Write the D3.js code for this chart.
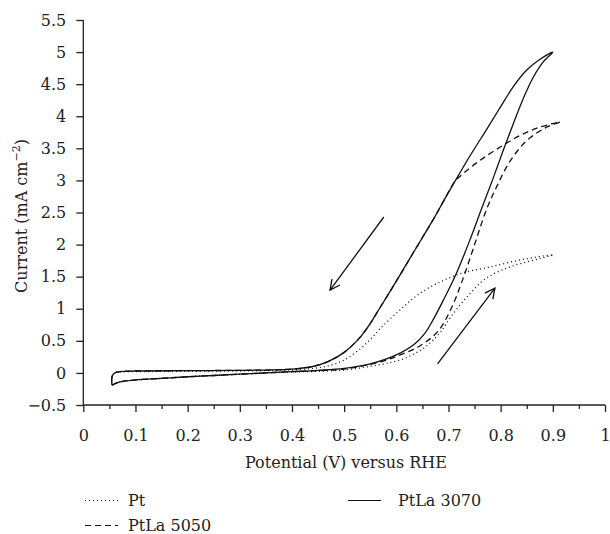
<!DOCTYPE html>
<html lang="en">
<head>
<meta charset="UTF-8" />
<title>CV curves</title>
<style>
  body { margin: 0; background: #fff; }
  svg text { font-family: "DejaVu Serif", "Liberation Serif", serif; fill: #222; }
</style>
</head>
<body>
<div id="chart"></div>
<script src="https://cdn.jsdelivr.net/npm/d3@7"></script>
<script>
// potential (V) / current (mA cm-2) pairs, traced round each loop
var ptCurve = [
  [0.055,-0.19],[0.07,-0.14],[0.1,-0.11],[0.15,-0.085],[0.2,-0.06],[0.25,-0.04],[0.3,-0.02],
  [0.35,0.0],[0.4,0.015],[0.45,0.025],[0.5,0.045],[0.569,0.13],[0.607,0.2],[0.635,0.3],
  [0.658,0.42],[0.684,0.63],[0.705,0.88],[0.735,1.18],[0.773,1.48],[0.824,1.67],[0.875,1.78],[0.901,1.84],
  [0.837,1.76],[0.779,1.65],[0.728,1.56],[0.69,1.44],[0.645,1.24],[0.607,0.98],[0.569,0.69],
  [0.55,0.52],[0.53,0.37],[0.5,0.2],[0.47,0.11],[0.44,0.07],[0.4,0.045],[0.35,0.035],[0.3,0.03],
  [0.2,0.025],[0.1,0.02],[0.07,0.015],[0.06,0.0],[0.055,-0.06],[0.055,-0.19]
];
var ptla5050 = [
  [0.055,-0.19],[0.07,-0.14],[0.1,-0.11],[0.15,-0.085],[0.2,-0.06],[0.25,-0.04],[0.3,-0.02],
  [0.35,0.0],[0.4,0.02],[0.45,0.035],[0.5,0.06],[0.569,0.17],[0.607,0.28],[0.645,0.42],
  [0.68,0.65],[0.705,1.0],[0.727,1.45],[0.75,2.0],[0.773,2.55],[0.794,2.93],[0.818,3.3],
  [0.85,3.62],[0.888,3.83],[0.914,3.91],
  [0.875,3.83],[0.837,3.7],[0.799,3.52],[0.76,3.31],[0.73,3.12],[0.712,2.98],[0.69,2.67],
  [0.67,2.38],[0.633,1.88],[0.6,1.43],[0.569,1.02],[0.55,0.77],[0.53,0.55],[0.5,0.32],
  [0.47,0.18],[0.44,0.1],[0.4,0.06],[0.35,0.045],[0.3,0.04],[0.2,0.035],[0.1,0.03],
  [0.07,0.02],[0.06,0.0],[0.055,-0.06],[0.055,-0.19]
];
var ptla3070 = [
  [0.055,-0.19],[0.07,-0.14],[0.1,-0.11],[0.15,-0.085],[0.2,-0.06],[0.25,-0.04],[0.3,-0.02],
  [0.35,0.0],[0.4,0.02],[0.45,0.04],[0.5,0.07],[0.55,0.14],[0.6,0.28],[0.635,0.45],
  [0.655,0.62],[0.672,0.85],[0.69,1.13],[0.715,1.55],[0.74,2.05],[0.763,2.55],[0.785,3.02],
  [0.805,3.47],[0.825,3.9],[0.843,4.27],[0.862,4.6],[0.882,4.85],[0.9,5.0],
  [0.874,4.88],[0.85,4.72],[0.825,4.47],[0.8,4.15],[0.775,3.82],[0.741,3.38],[0.712,2.98],
  [0.69,2.67],[0.67,2.38],[0.633,1.88],[0.6,1.43],[0.569,1.02],[0.55,0.77],[0.53,0.55],[0.5,0.32],
  [0.47,0.18],[0.44,0.1],[0.4,0.06],[0.35,0.045],[0.3,0.04],[0.2,0.035],[0.1,0.03],
  [0.07,0.02],[0.06,0.0],[0.055,-0.06],[0.055,-0.19]
];
var seriesNames = ["Pt", "PtLa 5050", "PtLa 3070"];
// scan-direction arrows: [x1, y1, x2, y2] in data units
var arrows = [
  [0.576, 2.43, 0.473, 1.29],
  [0.679, 0.14, 0.789, 1.32]
];
var xTicks = [0,0.1,0.2,0.3,0.4,0.5,0.6,0.7,0.8,0.9,1];
var yTicks = [-0.5,0,0.5,1,1.5,2,2.5,3,3.5,4,4.5,5,5.5];

var w = 610, h = 534;
var font = "DejaVu Serif, Liberation Serif, serif";
var svg = d3.select("#chart").append("svg")
  .attr("width", w).attr("height", h);

var x = d3.scaleLinear().domain([0, 1]).range([83.3, 605]);
var y = d3.scaleLinear().domain([-0.5, 5.5]).range([405, 20]);

// x axis: major ticks with labels, minor ticks in between
var xAxis = d3.axisBottom(x).tickValues(xTicks).tickSize(7).tickPadding(18)
  .tickFormat(function(d) { return d === 0 || d === 1 ? d : d3.format(".1f")(d); });
var gx = svg.append("g").attr("transform", "translate(0," + y(-0.5) + ")").call(xAxis);
gx.select(".domain").attr("d", "M" + x(0) + ",0H" + x(1));
svg.append("g").attr("transform", "translate(0," + y(-0.5) + ")")
  .call(d3.axisBottom(x).tickValues(d3.range(0.05, 1, 0.1)).tickSize(4).tickFormat(""))
  .select(".domain").remove();

var yAxis = d3.axisLeft(y).tickValues(yTicks).tickSize(7).tickPadding(10)
  .tickFormat(function(d) { return d < 0 ? "\u2212" + Math.abs(d) : d; });
var gy = svg.append("g").attr("transform", "translate(" + x(0) + ",0)").call(yAxis);
gy.select(".domain").attr("d", "M0," + y(5.5) + "V" + y(-0.5));

svg.selectAll("g").attr("font-family", font).attr("font-size", 16);
svg.selectAll(".tick text").attr("fill", "#222");
svg.selectAll(".domain, .tick line").attr("stroke", "#222").attr("stroke-width", 1.3);

// axis titles
svg.append("text").attr("x", 346).attr("y", 468).attr("text-anchor", "middle")
  .style("font-size", "16px").text("Potential (V) versus RHE");
var yt = svg.append("text").attr("transform", "translate(27,216) rotate(-90)")
  .attr("text-anchor", "middle").style("font-size", "16px");
yt.append("tspan").text("Current (mA cm");
yt.append("tspan").attr("dy", -7).style("font-size", "11px").text("\u22122");
yt.append("tspan").attr("dy", 7).text(")");

// curves
var line = d3.line().x(function(d) { return x(d[0]); }).y(function(d) { return y(d[1]); })
  .curve(d3.curveCatmullRom.alpha(0.5));
var dashes = ["1,3", "6,4", null];
[ptCurve, ptla5050, ptla3070].forEach(function(data, i) {
  svg.append("path").datum(data).attr("d", line)
    .attr("fill", "none").attr("stroke", "#111").attr("stroke-width", 1.3)
    .attr("stroke-dasharray", dashes[i]);
});

// arrows
svg.append("defs").append("marker").attr("id", "head")
  .attr("viewBox", "0 0 12 12").attr("refX", 11).attr("refY", 6)
  .attr("markerWidth", 12).attr("markerHeight", 12).attr("markerUnits", "userSpaceOnUse")
  .attr("orient", "auto")
  .append("path").attr("d", "M1,1L11,6L1,11").attr("fill", "none")
  .attr("stroke", "#111").attr("stroke-width", 1.3);
svg.selectAll(".arrow").data(arrows).enter().append("line")
  .attr("x1", function(d) { return x(d[0]); }).attr("y1", function(d) { return y(d[1]); })
  .attr("x2", function(d) { return x(d[2]); }).attr("y2", function(d) { return y(d[3]); })
  .attr("stroke", "#111").attr("stroke-width", 1.3).attr("marker-end", "url(#head)");

// legend
var legendPos = [[85, 506], [85, 531], [348, 506]];
var leg = svg.selectAll(".leg").data(seriesNames).enter().append("g")
  .attr("transform", function(d, i) { return "translate(" + legendPos[i][0] + "," + legendPos[i][1] + ")"; });
leg.append("line").attr("x1", 0).attr("x2", 33).attr("y1", -5.5).attr("y2", -5.5)
  .attr("stroke", "#111").attr("stroke-width", 1.2)
  .attr("stroke-dasharray", function(d, i) { return dashes[i]; });
leg.append("text").attr("x", function(d, i) { return i === 2 ? 50 : 43; }).attr("y", 0)
  .style("font-size", "16px").text(function(d) { return d; });
</script>
</body>
</html>
